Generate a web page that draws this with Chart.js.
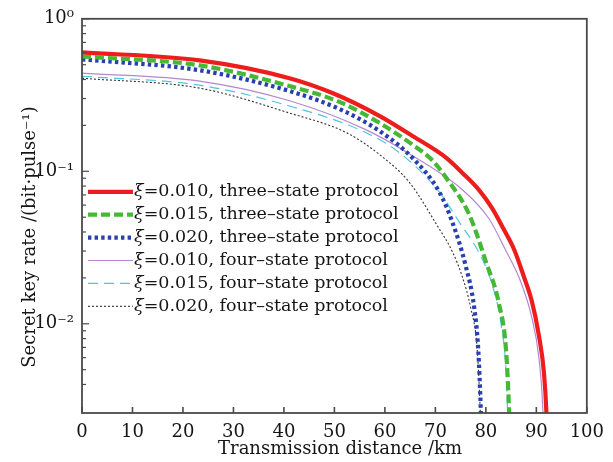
<!DOCTYPE html>
<html>
<head>
<meta charset="utf-8">
<script src="https://cdn.jsdelivr.net/npm/chart.js@4.4.0/dist/chart.umd.min.js"></script>
<style>
    html, body { margin: 0; padding: 0; background: #ffffff; }
</style>
</head>
<body>
<canvas id="keyChart" width="613" height="462"></canvas>
<script>
// ======================================================
// DATA
// ======================================================
const seriesLabels = [
    "=0.010, three\u2013state protocol",
    "=0.015, three\u2013state protocol",
    "=0.020, three\u2013state protocol",
    "=0.010, four\u2013state protocol",
    "=0.015, four\u2013state protocol",
    "=0.020, four\u2013state protocol"
];

// distance (km) / secret key rate (bit per pulse)
const dist3s010 = [0, 23.3, 41.1, 49.6, 58.9, 65.4, 72.1, 75.3, 78.7, 81.2, 83.6, 85.6, 87.5, 89.1, 90.5, 91.5, 92.0, 92.3];
const rate3s010 = [0.602, 0.534, 0.408, 0.326, 0.231, 0.171, 0.123, 0.098, 0.075, 0.0575, 0.0413, 0.0307, 0.0205, 0.0141, 0.0084, 0.0048, 0.0026, 0.0012];

const dist3s015 = [0, 23.3, 41.1, 51, 58.9, 65.4, 69.4, 72.1, 76.7, 80, 82.6, 84, 84.6, 84.9];
const rate3s015 = [0.567, 0.495, 0.362, 0.285, 0.208, 0.150, 0.118, 0.091, 0.052, 0.0256, 0.0135, 0.0067, 0.0027, 0.0012];

const dist3s020 = [0, 23.3, 41.1, 51, 58.9, 65.4, 70.8, 73.3, 76, 77.7, 78.5, 79, 79.3];
const rate3s020 = [0.542, 0.46, 0.336, 0.256, 0.184, 0.123, 0.073, 0.047, 0.024, 0.0127, 0.0067, 0.0027, 0.0012];

const dist4s010 = [0, 23.3, 41.1, 56.3, 65.4, 75.3, 80.6, 84, 86.6, 89.1, 90.5, 91.3, 91.6];
const rate4s010 = [0.44, 0.39, 0.29, 0.187, 0.127, 0.076, 0.049, 0.030, 0.020, 0.011, 0.006, 0.0027, 0.0012];

const dist4s015 = [0, 23.3, 41.1, 56.3, 62.8, 70.8, 74.7, 78.7, 81.2, 83, 84, 84.3, 84.6];
const rate4s015 = [0.42, 0.367, 0.268, 0.179, 0.133, 0.073, 0.0466, 0.029, 0.0183, 0.010, 0.0049, 0.0026, 0.0012];

const dist4s020 = [0, 23.3, 41.1, 52.4, 58.9, 64.8, 70.5, 73.3, 75.3, 77, 78.3, 78.9, 79.2];
const rate4s020 = [0.408, 0.351, 0.241, 0.179, 0.129, 0.085, 0.0433, 0.030, 0.0205, 0.0127, 0.0067, 0.0026, 0.0012];

const xTickValues = [0, 10, 20, 30, 40, 50, 60, 70, 80, 90, 100];
const yTickLabels = ["10\u207B\u00B2", "10\u207B\u00B9", "10\u2070"];

const SERIF = "'DejaVu Serif', 'Liberation Serif', serif";


// ======================================================
// HELPERS
// ======================================================
function toPoints(xs, ys) {
    return xs.map((x, i) => ({ x: x, y: ys[i] }));
}

function isDecade(v) {
    const e = Math.log10(v);
    return Math.abs(e - Math.round(e)) < 1e-6;
}

function isMinor(v) {
    const e = Math.floor(Math.log10(v) + 1e-9);
    const m = v / Math.pow(10, e);
    return Math.abs(m - Math.round(m)) < 1e-6;
}


// ======================================================
// PLUGINS: frame + inward ticks, legend, axis titles
// ======================================================
const framePlugin = {
    id: "frame",
    afterDatasetsDraw(chart) {
        const { ctx, chartArea: a, scales } = chart;
        ctx.save();
        ctx.strokeStyle = "#4a4a4a";
        ctx.lineWidth = 1.6;
        ctx.setLineDash([]);

        // x ticks (inward)
        scales.x.ticks.forEach(t => {
            const px = scales.x.getPixelForValue(t.value);
            ctx.beginPath();
            ctx.moveTo(px, a.bottom);
            ctx.lineTo(px, a.bottom - 6);
            ctx.stroke();
        });

        // y ticks (inward)
        ctx.lineWidth = 1.2;
        scales.y.ticks.forEach(t => {
            if (!isMinor(t.value)) return;
            const py = scales.y.getPixelForValue(t.value);
            const len = isDecade(t.value) ? 7 : 4;
            ctx.beginPath();
            ctx.moveTo(a.left, py);
            ctx.lineTo(a.left + len, py);
            ctx.stroke();
        });

        ctx.lineWidth = 1.8;
        ctx.strokeRect(a.left, a.top, a.right - a.left, a.bottom - a.top);
        ctx.restore();
    }
};

const legendPlugin = {
    id: "insideLegend",
    afterDatasetsDraw(chart) {
        const { ctx, chartArea: a } = chart;
        const x0 = a.left + 6;
        const x1 = a.left + 51;
        const rowTop = a.top + 173;
        const rowGap = 22.9;

        ctx.save();
        chart.data.datasets.forEach((ds, i) => {
            const y = rowTop + i * rowGap;

            ctx.strokeStyle = ds.borderColor;
            ctx.lineWidth = ds.borderWidth;
            ctx.setLineDash(ds.borderDash || []);
            ctx.beginPath();
            ctx.moveTo(x0, y);
            ctx.lineTo(x1, y);
            ctx.stroke();

            ctx.setLineDash([]);
            ctx.fillStyle = "#151515";
            ctx.textBaseline = "middle";
            ctx.textAlign = "left";
            ctx.font = "italic 17.5px " + SERIF;
            ctx.fillText("\u03BE", x1 + 1, y);
            const w = ctx.measureText("\u03BE").width;
            ctx.font = "17.5px " + SERIF;
            ctx.fillText(ds.label, x1 + 1 + w, y);
        });
        ctx.restore();
    }
};

const titlePlugin = {
    id: "axisTitles",
    afterDraw(chart) {
        const { ctx } = chart;
        ctx.save();
        ctx.fillStyle = "#151515";
        ctx.font = "18px " + SERIF;
        ctx.textAlign = "center";
        ctx.textBaseline = "middle";

        ctx.fillText("Transmission distance /km", 340, 449);

        ctx.translate(30, 237);
        ctx.rotate(-Math.PI / 2);
        ctx.fillText("Secret key rate /(bit\u00B7pulse\u207B\u00B9)", 0, 0);
        ctx.restore();
    }
};


// ======================================================
// CHART
// ======================================================
function loadKeyRateChart() {

    const ctx = document.getElementById("keyChart");

    if (!ctx) return;

    new Chart(ctx, {

        type: "line",

        data: {
            datasets: [
                {
                    label: seriesLabels[0],
                    data: toPoints(dist3s010, rate3s010),
                    borderColor: "#ee1d1d",
                    borderWidth: 4.2
                },
                {
                    label: seriesLabels[1],
                    data: toPoints(dist3s015, rate3s015),
                    borderColor: "#45b835",
                    borderWidth: 4.2,
                    borderDash: [9, 4]
                },
                {
                    label: seriesLabels[2],
                    data: toPoints(dist3s020, rate3s020),
                    borderColor: "#2a40b0",
                    borderWidth: 4.2,
                    borderDash: [3.4, 3.2]
                },
                {
                    label: seriesLabels[3],
                    data: toPoints(dist4s010, rate4s010),
                    borderColor: "#b587cf",
                    borderWidth: 1.2
                },
                {
                    label: seriesLabels[4],
                    data: toPoints(dist4s015, rate4s015),
                    borderColor: "#4cc7df",
                    borderWidth: 1.2,
                    borderDash: [10, 6]
                },
                {
                    label: seriesLabels[5],
                    data: toPoints(dist4s020, rate4s020),
                    borderColor: "#333333",
                    borderWidth: 1.1,
                    borderDash: [2, 2]
                }
            ]
        },

        options: {

            responsive: false,

            animation: false,

            layout: {
                padding: { top: 15, right: 25, left: 0, bottom: 0 }
            },

            elements: {
                point: { radius: 0 },
                line: { cubicInterpolationMode: "monotone", borderCapStyle: "butt" }
            },

            plugins: {
                legend: { display: false },
                tooltip: { enabled: false }
            },

            scales: {

                x: {
                    type: "linear",
                    min: xTickValues[0],
                    max: xTickValues[xTickValues.length - 1],
                    afterBuildTicks(scale) {
                        scale.ticks = xTickValues.map(v => ({ value: v }));
                    },
                    ticks: {
                        color: "#151515",
                        font: { family: SERIF, size: 18 },
                        padding: 9,
                        maxRotation: 0,
                        autoSkip: false
                    },
                    grid: { display: false, drawTicks: false },
                    border: { display: false },
                    afterFit(scale) { scale.height = 49; }
                },

                y: {
                    type: "logarithmic",
                    min: 0.0026,
                    max: 1,
                    ticks: {
                        color: "#151515",
                        font: { family: SERIF, size: 18 },
                        padding: 8,
                        autoSkip: false,
                        callback(value) {
                            if (!isDecade(value)) return "";
                            const e = Math.round(Math.log10(value));
                            return yTickLabels[e + 2];
                        }
                    },
                    grid: { display: false, drawTicks: false },
                    border: { display: false },
                    afterFit(scale) { scale.width = 82; }
                }

            }

        },

        plugins: [framePlugin, legendPlugin, titlePlugin]

    });

}

document.addEventListener("DOMContentLoaded", () => {
    loadKeyRateChart();
});
</script>
</body>
</html>
